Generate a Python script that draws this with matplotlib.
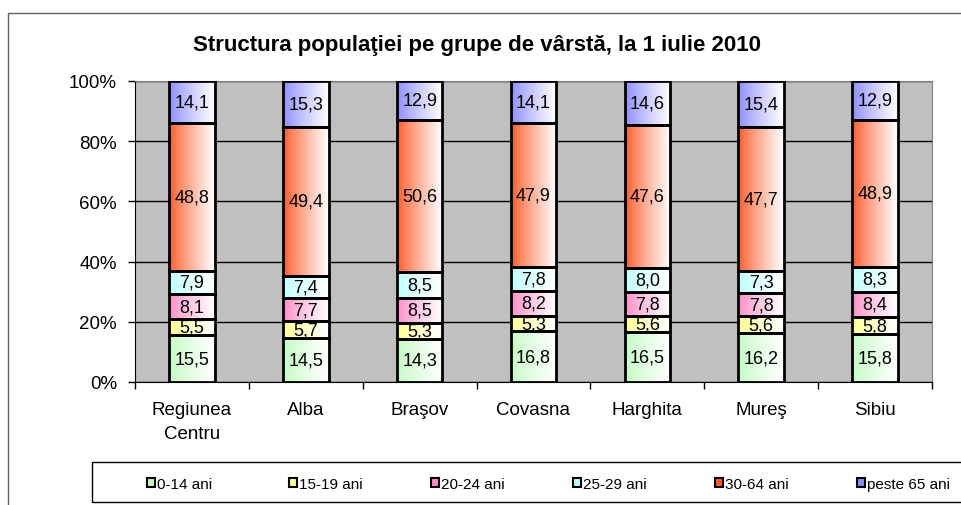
import numpy as np
import matplotlib
matplotlib.use("Agg")
import matplotlib.pyplot as plt
from matplotlib.patches import Rectangle
from matplotlib.colors import to_rgb

plt.rcParams['font.family'] = ['Liberation Sans', 'DejaVu Sans']

regions = ['Regiunea\nCentru', 'Alba', 'Braşov', 'Covasna', 'Harghita', 'Mureş', 'Sibiu']
groups = ['0-14 ani', '15-19 ani', '20-24 ani', '25-29 ani', '30-64 ani', 'peste 65 ani']

v_0_14 = [15.5, 14.5, 14.3, 16.8, 16.5, 16.2, 15.8]
v_15_19 = [5.5, 5.7, 5.3, 5.3, 5.6, 5.6, 5.8]
v_20_24 = [8.1, 7.7, 8.5, 8.2, 7.8, 7.8, 8.4]
v_25_29 = [7.9, 7.4, 8.5, 7.8, 8.0, 7.3, 8.3]
v_30_64 = [48.8, 49.4, 50.6, 47.9, 47.6, 47.7, 48.9]
v_65 = [14.1, 15.3, 12.9, 14.1, 14.6, 15.4, 12.9]

colors = ['#c4fcc4', '#ffff90', '#ff8cc8', '#c0ffff', '#ff5a28', '#8c8cff']

series = np.array([v_0_14, v_15_19, v_20_24, v_25_29, v_30_64, v_65])
pct = series / series.sum(axis=0) * 100

fig = plt.figure(figsize=(9.61, 5.06), dpi=100)
ax = fig.add_axes([135/961, 1-383/506, 797/961, 301/506])
ax.set_facecolor('#c0c0c0')

x = np.arange(len(regions))
width = 0.4
bottom = np.zeros(len(regions))

def gradient(c):
    r, g, b = to_rgb(c)
    t = np.linspace(0, 1, 64) ** 0.85
    img = np.zeros((1, 64, 3))
    img[0, :, 0] = r + (1 - r) * t
    img[0, :, 1] = g + (1 - g) * t
    img[0, :, 2] = b + (1 - b) * t
    return img

for i in range(len(groups)):
    bars = ax.bar(x, pct[i], width, bottom=bottom, color='none', edgecolor='black',
                  linewidth=2, zorder=4)
    for j, bar in enumerate(bars):
        x0 = bar.get_x()
        ax.imshow(gradient(colors[i]), extent=[x0, x0 + width, bottom[j], bottom[j] + pct[i][j]],
                  aspect='auto', zorder=3, interpolation='bilinear')
        txt = f'{series[i][j]:.1f}'.replace('.', ',')
        ax.text(x[j], bottom[j] + pct[i][j] / 2, txt, ha='center', va='center',
                fontsize=13, zorder=5)
    bottom += pct[i]

ax.set_xlim(-0.5, len(regions) - 0.5)
ax.set_ylim(0, 100)
ax.set_yticks(np.arange(0, 101, 20))
ax.set_yticklabels([f'{v}%' for v in range(0, 101, 20)], fontsize=13.5)
ax.yaxis.grid(True, color='black', linewidth=1)
ax.set_axisbelow(True)
ax.set_xticks(x)
ax.set_xticklabels(regions, fontsize=13.5, linespacing=1.5)
ax.tick_params(axis='x', length=0, pad=14)
ax.set_xticks(np.arange(-0.5, len(regions), 1), minor=True)
ax.tick_params(axis='x', which='minor', length=5, width=1)
ax.tick_params(axis='y', length=5, width=1, pad=8)
for s in ['top', 'right']:
    ax.spines[s].set_color('#808080')
for s in ['left', 'bottom']:
    ax.spines[s].set_color('black')

fig.text(0.496, 1 - 46/506, 'Structura populaţiei pe grupe de vârstă, la 1 iulie 2010',
         ha='center', va='center', fontsize=16, fontweight='bold')

# outer chart frame
fig.patches.append(Rectangle((8/961, -0.1), 1.2, 1 - 14/506 + 0.1, transform=fig.transFigure,
                             fill=False, edgecolor='#606060', linewidth=1))
# legend frame
fig.patches.append(Rectangle((92/961, 1 - 503/506), 1.2, 40/506, transform=fig.transFigure,
                             fill=False, edgecolor='black', linewidth=1))

legend_x = [147, 289, 431, 573, 715, 857]
for k, c in enumerate(colors):
    h = Rectangle((0, 0), 1, 1, facecolor=c, edgecolor='black', linewidth=1.5)
    fig.legend([h], [groups[k]], loc='center left', bbox_to_anchor=(legend_x[k]/961, 1 - 485/506),
               frameon=False, fontsize=11, handlelength=0.55, handleheight=0.55,
               handletextpad=0.1, borderpad=0, borderaxespad=0)

fig.savefig('out.png', dpi=100)
